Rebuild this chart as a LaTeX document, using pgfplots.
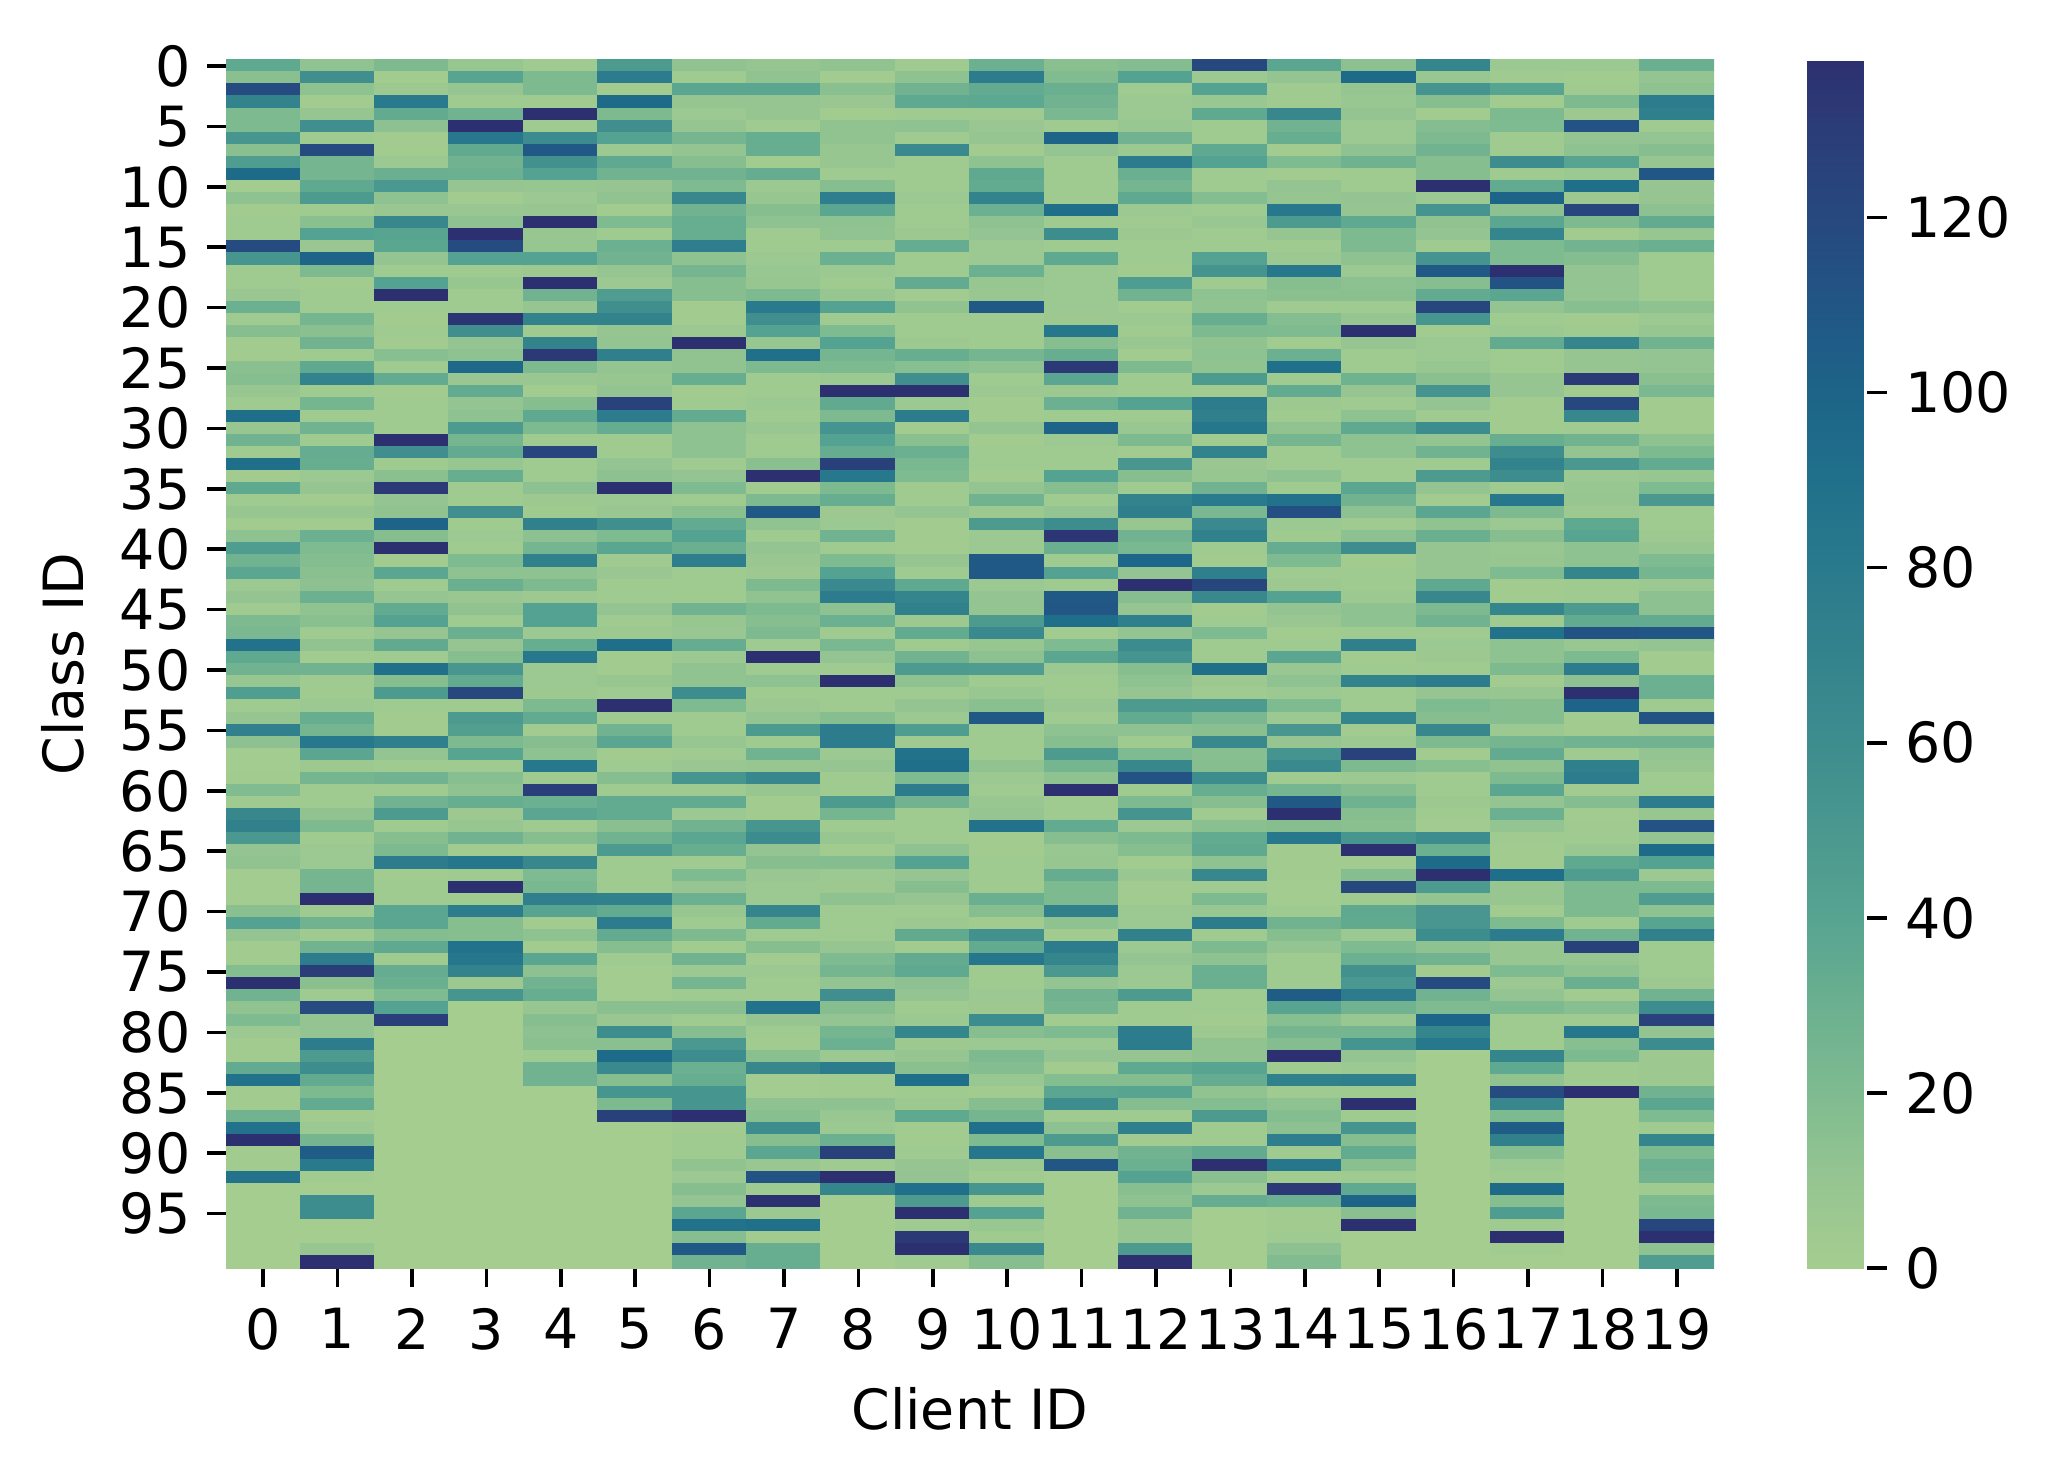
\documentclass[border=0pt]{standalone}
\usepackage{fontspec}
\setmainfont{DejaVu Sans}
\usepackage{pgfplots}
\pgfplotsset{compat=1.18}
\newcommand{\lab}{\fontsize{13.85}{16}\selectfont}
\begin{document}
\begin{tikzpicture}
\path[use as bounding box] (0,0) rectangle (513pt,369.5pt);
\begin{axis}[
  at={(56.5pt,52.5pt)}, anchor=south west,
  scale only axis, width=372pt, height=302pt,
  xmin=-0.5, xmax=19.5, ymin=-0.5, ymax=99.5, y dir=reverse,
  xtick={0,...,19}, ytick={0,5,...,95},
  axis line style={draw=none},
  tick align=outside, major tick length=4.75pt,
  tick style={black, line width=0.9pt},
  xtick pos=bottom, ytick pos=left,
  /pgf/number format/assume math mode=true,
  tick label style={font=\lab},
  xticklabel style={yshift=-1.8pt},
  yticklabel style={xshift=-0.65pt},
  xlabel={Client ID}, ylabel={Class ID},
  label style={font=\lab},
  xlabel shift=2.3pt, ylabel shift=2pt,
  colormap={crest}{rgb255(0pt)=(165,205,144); rgb255(10pt)=(150,197,145); rgb255(20pt)=(127,187,144); rgb255(30pt)=(107,176,144); rgb255(40pt)=(87,164,145); rgb255(50pt)=(74,152,143); rgb255(60pt)=(62,141,142); rgb255(70pt)=(51,131,141); rgb255(80pt)=(42,122,141); rgb255(90pt)=(32,112,139); rgb255(100pt)=(29,100,136); rgb255(110pt)=(33,86,133); rgb255(120pt)=(39,72,127); rgb255(130pt)=(43,61,120); rgb255(138pt)=(45,48,112)},
  point meta min=0, point meta max=138,
  colorbar,
  colorbar style={
    at={(1.0625,0)}, anchor=south west,
    width=15pt,
    ytick={0,20,...,120},
    yticklabel pos=right,
    ytick pos=right,
    tick align=outside,
    axis line style={draw=none},
    tick style={black, line width=0.9pt, major tick length=5pt},
    major tick length=5pt,
    /pgf/number format/assume math mode=true,
    tick label style={font=\lab},
    yticklabel style={xshift=1pt},
  },
]
\addplot[matrix plot*, mesh/cols=20, mesh/rows=100, mesh/ordering=y varies, point meta=explicit]
table[x expr={floor((\coordindex+0.5)/100)}, y expr={mod(\coordindex,100)}, meta=v] {
v
36
15
118
70
21
21
53
15
46
95
1
13
2
3
3
118
53
4
4
7
30
3
17
2
2
15
17
9
3
92
9
27
3
92
2
36
3
9
2
13
46
27
38
6
11
3
21
23
88
36
27
9
45
4
10
73
14
1
1
2
19
3
66
72
50
11
12
1
1
1
15
42
11
2
2
18
138
27
12
20
6
2
2
34
88
2
2
27
88
138
2
2
88
0
0
0
0
0
0
0
12
58
13
2
10
58
3
118
25
25
36
48
3
15
42
7
100
21
2
3
4
25
15
27
3
36
70
4
25
3
27
3
33
32
6
10
2
9
2
30
20
18
15
14
30
12
15
3
12
2
27
3
3
6
32
25
82
38
5
25
3
3
12
21
4
6
6
25
25
138
3
27
4
27
78
130
15
3
118
11
11
78
48
60
34
21
34
2
6
25
105
80
2
0
60
60
0
0
9
138
21
2
5
80
34
14
2
2
6
31
50
13
7
66
40
38
11
3
42
138
3
2
4
2
16
4
34
2
4
4
4
138
58
4
15
132
11
12
100
17
138
2
38
3
10
34
42
10
35
4
90
17
48
3
2
2
74
11
3
27
4
27
48
3
17
21
78
2
4
4
38
38
18
36
4
33
31
20
42
128
0
0
0
0
0
0
0
0
0
0
0
0
0
0
0
0
0
0
0
0
9
40
10
4
27
138
82
35
27
30
10
2
7
13
138
118
42
3
9
3
3
135
58
11
13
96
7
34
11
13
48
25
34
9
32
3
3
58
3
6
4
20
13
31
7
12
3
31
10
17
52
34
120
3
48
44
21
40
3
16
13
32
5
9
27
2
84
3
138
4
78
17
17
88
84
70
5
53
0
0
0
0
0
0
0
0
0
0
0
0
0
0
0
0
0
0
0
0
0
0
3
21
21
3
138
3
62
108
56
42
9
6
9
138
9
9
42
5
138
27
10
70
4
70
132
21
7
2
17
36
21
3
122
3
3
14
5
3
72
14
25
72
13
21
5
42
42
6
32
82
6
6
5
21
34
2
17
13
82
4
128
30
38
3
17
2
66
20
23
74
40
2
13
2
38
14
27
32
9
17
14
15
3
27
27
0
0
0
0
0
0
0
0
0
0
0
0
0
0
0
48
78
2
95
21
58
42
6
36
27
10
12
2
20
3
30
27
10
6
46
58
70
10
11
74
11
9
11
125
78
33
3
3
11
14
138
6
7
58
20
38
3
7
3
3
11
3
5
92
2
2
9
3
138
3
27
38
2
3
17
3
34
34
15
27
48
3
3
3
72
34
78
34
17
3
1
1
1
15
7
60
15
95
64
17
53
21
126
0
0
0
0
0
0
0
0
0
0
0
0
12
4
38
10
6
10
25
11
17
27
20
66
27
32
32
76
13
25
17
17
2
2
6
138
12
12
32
2
4
34
13
13
13
4
11
20
3
15
34
42
31
76
3
3
3
27
9
7
33
6
12
12
60
20
3
3
9
3
7
53
3
34
6
27
38
32
3
20
10
30
9
3
21
2
27
6
25
3
15
3
17
50
60
30
32
53
53
138
2
4
4
12
6
17
11
38
88
17
108
27
10
12
38
10
10
3
32
32
2
33
6
9
17
13
3
3
6
8
9
21
80
58
42
9
90
21
3
3
6
3
8
3
3
15
138
2
21
108
12
3
11
7
5
21
12
21
17
21
3
138
3
13
3
5
11
48
3
27
9
66
9
2
2
53
62
11
17
7
6
6
68
34
3
17
2
6
4
3
88
10
3
2
15
66
1
1
13
16
60
17
38
7
112
3
138
6
90
2
32
32
12
2
15
7
2
12
12
9
9
4
17
76
38
13
12
3
30
6
4
9
42
3
20
42
25
21
6
138
35
21
54
42
33
126
82
21
32
5
6
27
3
20
42
64
78
13
30
3
23
11
3
138
3
3
17
78
78
6
10
3
3
48
25
3
9
2
18
6
5
13
3
3
3
10
20
25
11
58
17
11
25
30
6
78
2
2
13
8
6
30
126
3
138
68
0
0
0
0
0
0
3
13
27
36
3
13
4
64
4
3
3
6
3
3
5
33
3
3
34
2
12
4
4
5
32
16
58
138
6
78
2
15
30
23
20
3
3
11
2
2
2
10
4
36
68
72
5
34
4
27
48
13
3
11
6
46
3
88
92
20
78
27
3
3
3
13
42
10
17
10
3
5
35
2
34
36
14
11
3
6
68
5
10
15
92
3
5
36
2
2
3
10
11
90
48
138
3
132
138
3
30
78
34
37
4
7
10
2
13
36
34
70
30
13
11
6
6
30
9
7
108
3
3
3
25
13
3
6
2
2
11
2
3
3
2
11
27
5
48
6
6
108
108
6
11
11
48
64
9
14
46
3
8
15
108
3
3
3
12
6
3
8
10
88
2
2
3
4
4
31
17
2
56
34
84
4
4
6
5
60
17
6
21
18
8
2
17
25
90
20
84
6
2
53
3
42
8
3
64
17
15
19
31
27
23
4
100
11
3
3
3
3
92
3
60
4
36
6
6
6
6
5
84
17
32
132
38
5
30
3
100
6
3
3
42
17
3
11
60
134
31
3
42
3
108
110
92
2
20
38
6
3
3
7
3
13
17
48
25
13
138
3
3
34
17
8
9
33
21
21
72
13
2
78
68
50
11
27
25
2
20
6
11
2
18
38
60
3
14
48
15
110
0
0
0
0
0
0
0
0
18
42
3
6
6
8
27
6
78
31
25
36
6
3
5
3
3
2
46
27
2
6
3
8
2
21
3
4
42
3
8
21
2
52
17
3
70
74
9
27
23
98
11
138
17
10
74
11
62
54
17
13
10
48
34
13
3
20
66
112
3
21
54
6
21
17
2
8
2
2
6
6
72
6
11
6
6
48
3
3
78
78
10
36
18
40
18
3
74
2
27
30
42
16
13
27
9
9
48
138
120
6
42
8
36
3
4
36
42
3
3
18
3
8
3
4
42
54
3
13
12
32
21
12
13
12
48
2
78
74
84
2
70
7
9
27
80
23
64
72
3
2
74
122
65
2
4
20
3
3
92
5
3
48
23
15
65
16
17
60
32
17
3
15
34
36
13
66
4
21
8
78
3
21
13
31
31
3
4
2
5
12
12
40
33
12
18
48
3
3
34
138
15
6
33
0
0
0
0
0
38
11
4
3
66
27
32
2
20
2
11
10
82
48
10
3
6
82
17
15
3
18
20
2
30
90
3
34
5
3
12
25
3
3
13
3
88
115
6
3
33
20
3
5
42
11
7
2
3
38
8
13
6
20
6
52
10
54
64
4
25
108
138
17
82
2
2
2
1
1
3
27
17
11
4
3
3
105
40
16
25
18
138
3
72
4
13
18
14
76
4
84
2
132
30
2
2
3
14
19
14
95
10
8
11
6
6
13
28
3
3
11
10
36
21
21
13
6
14
15
4
10
138
10
3
3
28
10
3
13
36
13
13
4
3
38
27
14
3
14
60
2
3
3
5
13
13
4
74
2
3
70
3
3
68
2
6
125
21
6
18
28
17
15
53
138
2
17
120
3
36
35
6
20
30
56
50
78
27
8
25
54
11
6
74
4
138
3
54
17
34
15
3
36
100
15
138
0
0
0
68
8
54
17
2
18
21
27
17
17
138
6
54
12
11
3
54
108
17
34
122
53
2
6
6
9
15
54
11
3
60
11
27
3
48
11
2
38
12
31
10
10
10
36
66
21
27
3
6
5
3
78
10
20
17
66
21
2
16
3
3
5
3
2
60
30
95
138
48
11
52
52
60
13
27
2
118
27
20
98
68
82
0
0
0
0
0
0
0
0
0
0
0
0
0
0
0
0
0
0
6
4
40
2
21
20
4
3
60
3
34
100
14
38
68
20
20
138
112
38
11
4
6
34
3
3
10
10
2
2
2
32
60
70
60
3
82
21
6
17
8
9
20
2
2
68
3
88
13
13
21
2
9
17
17
6
25
34
12
21
38
11
30
11
3
2
2
92
9
9
2
20
78
9
9
20
6
11
21
3
3
3
68
36
12
118
66
21
105
72
17
6
3
95
17
46
3
138
2
0
6
2
3
21
5
112
11
13
40
6
92
5
122
21
2
26
18
11
11
11
16
2
3
68
10
10
132
2
120
66
3
27
11
50
6
8
9
5
36
40
13
13
68
3
3
48
34
112
8
21
78
14
138
100
2
2
27
3
74
78
2
18
2
4
3
8
36
46
21
21
21
3
27
126
9
13
31
2
16
4
84
16
21
3
3
138
0
0
0
0
0
0
0
0
0
0
0
0
0
0
31
11
13
78
74
3
11
17
9
110
10
10
14
34
9
31
4
3
3
3
13
6
9
27
11
11
15
23
2
2
2
13
21
34
9
20
50
3
3
5
9
20
25
6
14
14
34
110
11
2
2
30
30
3
112
5
27
11
9
3
3
78
9
112
11
95
42
6
21
46
13
40
72
3
3
3
5
27
60
125
11
62
5
5
5
27
38
20
3
68
21
30
27
4
21
23
122
138
13
46
};
\end{axis}
\end{tikzpicture}
\end{document}
